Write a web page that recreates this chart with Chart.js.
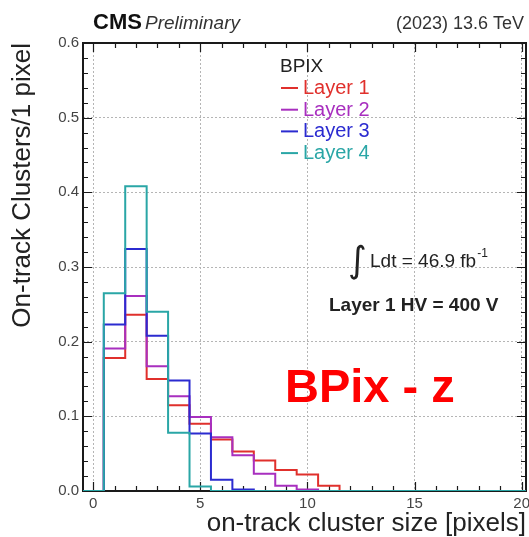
<!DOCTYPE html>
<html>
<head>
<meta charset="utf-8">
<title>BPix - z cluster size</title>
<script src="https://cdn.jsdelivr.net/npm/chart.js@4.4.0/dist/chart.umd.min.js"></script>
<style>
  html, body { margin: 0; padding: 0; background: #fff; }
  #wrap { position: relative; width: 529px; height: 537px; }
</style>
</head>
<body>
<div id="wrap"><canvas id="clusterChart" width="529" height="537"></canvas></div>
<script>
// Histogram data (bin centres, 1-pixel wide bins)
const clusterSize = [0, 1, 2, 3, 4, 5, 6, 7, 8, 9, 10, 11, 12, 13, 14, 15, 16, 17, 18, 19, 20];
const layer1 = [0, 0.178, 0.236, 0.150, 0.115, 0.090, 0.069, 0.053, 0.041, 0.028, 0.022, 0.007, 0, 0, 0, 0, 0, 0, 0, 0, 0];
const layer2 = [0, 0.191, 0.261, 0.167, 0.127, 0.099, 0.072, 0.048, 0.023, 0.007, 0.002, 0, 0, 0, 0, 0, 0, 0, 0, 0, 0];
const layer3 = [0, 0.223, 0.324, 0.208, 0.148, 0.077, 0.015, 0.002, 0, 0, 0, 0, 0, 0, 0, 0, 0, 0, 0, 0, 0];
const layer4 = [0, 0.265, 0.408, 0.240, 0.078, 0.006, 0, 0, 0, 0, 0, 0, 0, 0, 0, 0, 0, 0, 0, 0, 0];
const layerNames = ['Layer 1', 'Layer 2', 'Layer 3', 'Layer 4'];
const layerColors = ['#e0302c', '#a82fbf', '#2b2bd0', '#2aa6a6'];
const xTicks = [0, 5, 10, 15, 20];
const yTicks = [0, 0.1, 0.2, 0.3, 0.4, 0.5, 0.6];

const FONT = '"Liberation Sans", Arial, Helvetica, sans-serif';

/**
 * Turn bin centres + contents into step points at the bin edges
 */
function histPoints(centres, values) {
  const pts = centres.map((c, i) => ({ x: c - 0.5, y: values[i] }));
  const last = centres.length - 1;
  pts.push({ x: centres[last] + 0.5, y: values[last] });
  return pts;
}

/**
 * Frame, inward ticks, header, legend and annotations
 */
const decorPlugin = {
  id: 'decor',
  beforeDatasetsDraw(chart) {
    const { ctx, chartArea: a, scales: { x, y } } = chart;
    ctx.save();
    ctx.strokeStyle = '#1a1a1a';
    ctx.lineWidth = 1.2;
    // minor + major ticks, x (every 1 pixel) on bottom and top
    for (let v = Math.ceil(x.min); v <= x.max; v++) {
      const px = Math.round(x.getPixelForValue(v)) + 0.5;
      const len = v % 5 === 0 ? 9 : 5;
      ctx.beginPath();
      ctx.moveTo(px, a.bottom); ctx.lineTo(px, a.bottom - len);
      ctx.moveTo(px, a.top); ctx.lineTo(px, a.top + len);
      ctx.stroke();
    }
    // y ticks every 0.02 on left and right
    for (let k = 0; k <= 30; k++) {
      const py = Math.round(y.getPixelForValue(k * 0.02)) + 0.5;
      const len = k % 5 === 0 ? 9 : 5;
      ctx.beginPath();
      ctx.moveTo(a.left, py); ctx.lineTo(a.left + len, py);
      ctx.moveTo(a.right, py); ctx.lineTo(a.right - len, py);
      ctx.stroke();
    }
    // frame
    ctx.lineWidth = 2;
    ctx.strokeRect(a.left, a.top, a.right - a.left, a.bottom - a.top);
    ctx.restore();
  },
  afterDraw(chart) {
    const { ctx } = chart;
    ctx.save();
    ctx.textBaseline = 'alphabetic';

    // header
    ctx.fillStyle = '#111';
    ctx.textAlign = 'left';
    ctx.font = 'bold 22px ' + FONT;
    ctx.fillText('CMS', 93, 29);
    ctx.font = 'italic 19px ' + FONT;
    ctx.fillStyle = '#333';
    ctx.fillText('Preliminary', 145, 29);
    ctx.textAlign = 'right';
    ctx.font = '18px ' + FONT;
    ctx.fillText('(2023) 13.6 TeV', 524, 29);

    // legend
    ctx.textAlign = 'left';
    ctx.fillStyle = '#222';
    ctx.font = '19px ' + FONT;
    ctx.fillText('BPIX', 280, 72);
    chart.data.datasets.forEach((ds, i) => {
      const yl = 88 + i * 21.7;
      ctx.strokeStyle = ds.borderColor;
      ctx.lineWidth = 2;
      ctx.beginPath();
      ctx.moveTo(281, yl); ctx.lineTo(298, yl);
      ctx.stroke();
      ctx.fillStyle = ds.borderColor;
      ctx.font = '20px ' + FONT;
      ctx.fillText(ds.label, 303, yl + 6);
    });

    // luminosity
    ctx.fillStyle = '#222';
    ctx.font = '36px "DejaVu Sans", ' + FONT;
    ctx.fillText('\u222B', 348, 272);
    ctx.font = '19px ' + FONT;
    ctx.fillText('Ldt = 46.9 fb', 370, 267);
    const w = ctx.measureText('Ldt = 46.9 fb').width;
    ctx.font = '12px ' + FONT;
    ctx.fillText('-1', 370 + w + 1, 257);

    ctx.font = 'bold 19px ' + FONT;
    ctx.fillText('Layer 1 HV = 400 V', 329, 311);

    ctx.fillStyle = '#ff0000';
    ctx.font = 'bold 47px ' + FONT;
    ctx.fillText('BPix - z', 285, 402);
    ctx.restore();
  }
};

const layers = [layer1, layer2, layer3, layer4];

new Chart(document.getElementById('clusterChart'), {
  type: 'line',
  data: {
    datasets: layers.map((vals, i) => ({
      label: layerNames[i],
      data: histPoints(clusterSize, vals),
      borderColor: layerColors[i],
      borderWidth: 2,
      stepped: 'before',
      pointRadius: 0,
      fill: false,
      order: layers.length - i
    }))
  },
  options: {
    responsive: false,
    animation: false,
    devicePixelRatio: 1,
    layout: { padding: { top: 43, right: 3, left: 0, bottom: 0 } },
    plugins: {
      legend: { display: false },
      tooltip: { enabled: false }
    },
    scales: {
      x: {
        type: 'linear',
        min: -0.47,
        max: 20.2,
        afterBuildTicks: (scale) => { scale.ticks = xTicks.map(v => ({ value: v })); },
        afterFit: (scale) => {
          scale.height = 46;
          scale.paddingLeft = 0;
          scale.paddingRight = 0;
        },
        ticks: {
          padding: 4,
          color: '#444',
          font: { family: FONT, size: 15 },
          maxRotation: 0,
          callback: (v) => String(v)
        },
        grid: { color: '#b5b5b5', lineWidth: 1, drawTicks: false },
        border: { display: false, dash: [2, 2] },
        title: {
          display: true,
          text: 'on-track cluster size [pixels]',
          align: 'end',
          color: '#222',
          font: { family: FONT, size: 26, lineHeight: 1 },
          padding: { top: 0, bottom: 0 }
        }
      },
      y: {
        min: 0,
        max: 0.6,
        afterBuildTicks: (scale) => { scale.ticks = yTicks.map(v => ({ value: v })); },
        afterFit: (scale) => {
          scale.width = 83;
          scale.paddingTop = 0;
          scale.paddingBottom = 0;
        },
        ticks: {
          padding: 4,
          color: '#444',
          font: { family: FONT, size: 15 },
          callback: (v) => v.toFixed(1)
        },
        grid: { color: '#b5b5b5', lineWidth: 1, drawTicks: false },
        border: { display: false, dash: [2, 2] },
        title: {
          display: true,
          text: 'On-track Clusters/1 pixel',
          align: 'end',
          color: '#222',
          font: { family: FONT, size: 26, lineHeight: 1 },
          padding: { top: 10, bottom: 0 }
        }
      }
    }
  },
  plugins: [decorPlugin]
});
</script>
</body>
</html>
